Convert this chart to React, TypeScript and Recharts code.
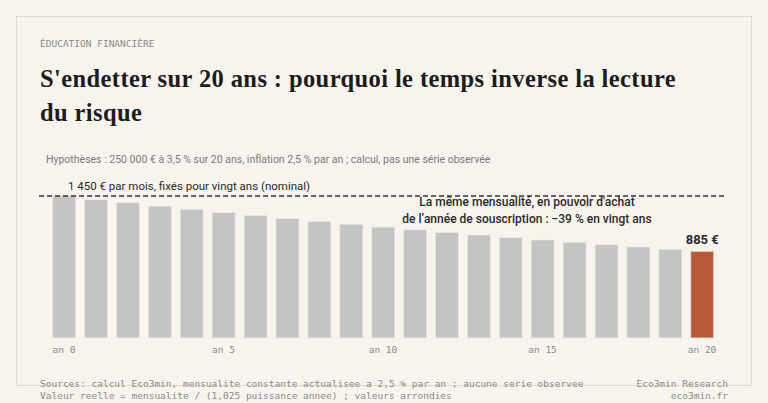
import React from "react";
import { BarChart, Bar, XAxis, YAxis, Cell, ReferenceLine, LabelList } from "recharts";

// années depuis la souscription
const years = [0, 1, 2, 3, 4, 5, 6, 7, 8, 9, 10, 11, 12, 13, 14, 15, 16, 17, 18, 19, 20];
// mensualité en euros de l'année 0 (valeurs arrondies)
const realPayment = [
    1450, 1415, 1380, 1346, 1314, 1282, 1250, 1220, 1190, 1161, 1133, 1105,
    1078, 1052, 1026, 1001, 977, 953, 930, 907, 885,
];
const nominalPayment = 1450;
const tickYears = [0, 5, 10, 15, 20];

const BG = "#f7f4ee";
const MONO = "'DejaVu Sans Mono', monospace";
const SANS = "Roboto, 'Noto Sans', sans-serif";

const data = years.map((y, i) => ({ year: y, value: realPayment[i] }));

const abs = (left: number, top: number, extra: React.CSSProperties = {}): React.CSSProperties => ({
    position: "absolute",
    left,
    top,
    whiteSpace: "nowrap",
    ...extra,
});

export default function App() {
    const last = data.length - 1;
    return (
        <div
            style={{
                position: "fixed",
                left: 0,
                top: 0,
                width: 768,
                height: 403,
                background: BG,
                overflow: "hidden",
            }}
        >
            <div
                style={{
                    position: "absolute",
                    left: 16,
                    top: 16,
                    width: 734,
                    height: 368,
                    border: "1.5px solid #e0d9c9",
                }}
            />
            <div style={abs(40, 38, { font: `9.5px ${MONO}`, color: "#8a8a8a", lineHeight: "12px" })}>
                ÉDUCATION FINANCIÈRE
            </div>
            <div
                style={abs(40, 62, {
                    fontFamily: "'Liberation Serif', serif",
                    fontWeight: 700,
                    fontSize: 24.5,
                    letterSpacing: 0.4,
                    lineHeight: "34px",
                    color: "#1c1c1c",
                    whiteSpace: "normal",
                    width: 700,
                })}
            >
                S'endetter sur 20 ans : pourquoi le temps inverse la lecture
                <br />
                du risque
            </div>
            <div style={abs(46, 153, { font: `10.5px ${SANS}`, color: "#7a7a7a", lineHeight: "14px" })}>
                Hypothèses : 250 000 € à 3,5 % sur 20 ans, inflation 2,5 % par an ; calcul, pas une série observée
            </div>
            <div style={abs(68, 178, { font: `11.5px ${SANS}`, color: "#2a2a2a", lineHeight: "16px" })}>
                1 450 € par mois, fixés pour vingt ans (nominal)
            </div>
            <div
                style={abs(377, 194, {
                    width: 300,
                    textAlign: "center",
                    font: `500 12px ${SANS}`,
                    color: "#2a2a2a",
                    lineHeight: "16.5px",
                })}
            >
                La même mensualité, en pouvoir d'achat
                <br />
                de l’année de souscription : −39 % en vingt ans
            </div>

            <div style={{ position: "absolute", left: 0, top: 0 }}>
                <BarChart
                    width={768}
                    height={403}
                    data={data}
                    margin={{ top: 196, right: 41, bottom: 35, left: 39 }}
                    barCategoryGap="14.5%"
                >
                    <XAxis
                        dataKey="year"
                        height={30}
                        axisLine={false}
                        tickLine={false}
                        interval={0}
                        padding={{ left: 9, right: 9 }}
                        tick={(props: any) => {
                            const y = props.payload.value;
                            if (!tickYears.includes(y)) return <g />;
                            return (
                                <text
                                    x={props.x}
                                    y={props.y + 7}
                                    textAnchor="middle"
                                    fontFamily={MONO}
                                    fontSize={9.5}
                                    fill="#8a8a8a"
                                >
                                    {`an ${y}`}
                                </text>
                            );
                        }}
                    />
                    <YAxis hide domain={[0, nominalPayment]} />
                    <ReferenceLine
                        y={nominalPayment}
                        stroke="#333"
                        strokeWidth={1.5}
                        strokeDasharray="5 3"
                    />
                    <Bar dataKey="value" isAnimationActive={false} stroke="#ece9e3" strokeWidth={0.8}>
                        {data.map((d, i) => (
                            <Cell key={`c-${d.year}`} fill={i === last ? "#b85a3a" : "#c4c4c4"} />
                        ))}
                        <LabelList
                            dataKey="value"
                            content={(props: any) => {
                                if (props.index !== last) return null;
                                return (
                                    <text
                                        x={props.x + props.width / 2}
                                        y={props.y - 7}
                                        textAnchor="middle"
                                        fontFamily={SANS}
                                        fontWeight={700}
                                        fontSize={13}
                                        fill="#2a2a2a"
                                    >
                                        {`${props.value} €`}
                                    </text>
                                );
                            }}
                        />
                    </Bar>
                </BarChart>
            </div>

            <div style={abs(40, 378, { font: `9.5px ${MONO}`, color: "#8a8a8a", lineHeight: "12px" })}>
                Sources: calcul Eco3min, mensualite constante actualisee a 2,5 % par an ; aucune serie observee
                <br />
                Valeur reelle = mensualite / (1,025 puissance annee) ; valeurs arrondies
            </div>
            <div
                style={abs(528, 378, {
                    width: 200,
                    textAlign: "right",
                    font: `9.5px ${MONO}`,
                    color: "#8a8a8a",
                    lineHeight: "12px",
                })}
            >
                Eco3min Research
                <br />
                eco3min.fr
            </div>
        </div>
    );
}
